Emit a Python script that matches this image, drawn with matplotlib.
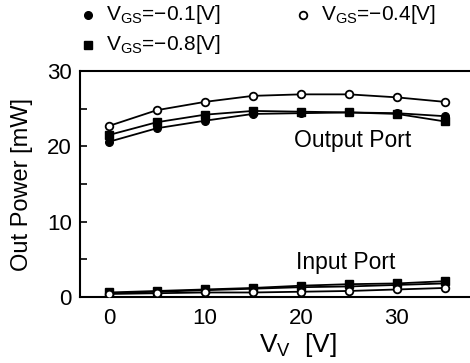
import matplotlib
matplotlib.use("Agg")
import matplotlib.pyplot as plt
from matplotlib.lines import Line2D

plt.rcParams['font.family'] = ['Liberation Sans', 'DejaVu Sans']
plt.rcParams['mathtext.fontset'] = 'custom'
plt.rcParams['mathtext.rm'] = 'Liberation Sans'
plt.rcParams['mathtext.it'] = 'Liberation Sans'

vv = [0, 5, 10, 15, 20, 25, 30, 35]

out_01 = [20.6, 22.4, 23.4, 24.3, 24.4, 24.5, 24.4, 24.0]
out_04 = [22.7, 24.8, 25.9, 26.7, 26.9, 26.9, 26.5, 25.9]
out_08 = [21.5, 23.2, 24.2, 24.7, 24.6, 24.5, 24.3, 23.3]

in_01 = [0.5, 0.7, 0.9, 1.1, 1.3, 1.4, 1.6, 1.8]
in_04 = [0.4, 0.5, 0.6, 0.6, 0.7, 0.8, 1.0, 1.2]
in_08 = [0.6, 0.8, 1.0, 1.2, 1.5, 1.7, 1.8, 2.1]

labels = [r'V$_{\mathrm{GS}}$=−0.1[V]', r'V$_{\mathrm{GS}}$=−0.4[V]', r'V$_{\mathrm{GS}}$=−0.8[V]']

W, H = 470, 363
fig = plt.figure(figsize=(W/100, H/100), dpi=100)
ax = fig.add_axes([80/W, 1-297/H, 1-80/W, (297-71)/H])

lw = 1.3
ms = 5.5
styles = [dict(marker='o', mfc='black', mec='black', zorder=3),
          dict(marker='o', mfc='white', mec='black', mew=1.3, zorder=4),
          dict(marker='s', mfc='black', mec='black', zorder=3)]

for ys, st in zip([out_01, out_04, out_08], styles):
    ax.plot(vv, ys, color='black', lw=lw, ms=ms, **st)
for ys, st in zip([in_01, in_04, in_08], styles):
    ax.plot(vv, ys, color='black', lw=lw, ms=ms, **st)

ax.set_xlim(-3, (W-109)/9.6)
ax.set_ylim(0, 30)
ax.set_xticks([0, 10, 20, 30])
ax.set_yticks([0, 5, 10, 15, 20, 25, 30])
ax.set_yticklabels(['0', '', '10', '', '20', '', '30'])
ax.tick_params(axis='y', direction='in', length=5, width=1.2, labelsize=16, pad=6)
ax.tick_params(axis='x', length=0, labelsize=16, pad=8)
ax.spines['right'].set_visible(False)
for s in ['left', 'bottom', 'top']:
    ax.spines[s].set_linewidth(1.5)

ax.set_ylabel('Out Power [mW]', fontsize=17)
ax.yaxis.set_label_coords(-(80-33)/(W-80), 0.5)
ax.set_xlabel(r'V$_{\mathrm{V}}$  [V]', fontsize=19)
ax.xaxis.set_label_coords((298-80)/(W-80), -(331-297)/(297-71))

ax.text(19.3, 20.8, 'Output Port', fontsize=16.5, va='center', ha='left')
ax.text(19.5, 4.6, 'Input Port', fontsize=16.5, va='center', ha='left')

# legend (manual placement)
pos = [(88, 15), (303, 15), (88, 45)]
for (px, py), st, lab in zip(pos, styles, labels):
    st2 = {k: v for k, v in st.items() if k != 'zorder'}
    fig.add_artist(Line2D([px/W], [1-py/H], transform=fig.transFigure, ls='none',
                          ms=ms, **st2))
    fig.text((px+18)/W, 1-py/H, lab, fontsize=15, va='center', ha='left')

fig.savefig('out.png', dpi=100)
